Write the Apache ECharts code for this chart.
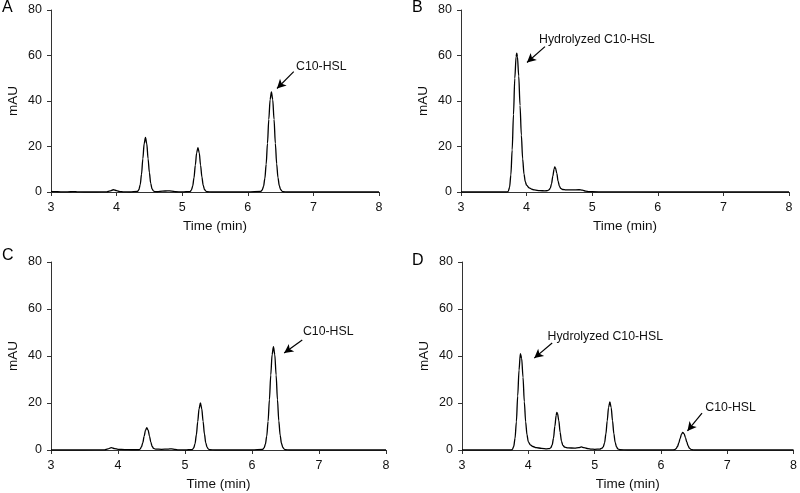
<!DOCTYPE html>
<html><head><meta charset="utf-8">
<script src="https://cdn.jsdelivr.net/npm/echarts@6/dist/echarts.min.js"></script>
<style>html,body{margin:0;padding:0;background:#fff}#c{width:800px;height:493px}</style>
</head><body><div id="c"></div><script>
// Chromatogram traces: [time (min), mAU]
const traceA = [[3.0,0.3],[3.05,0.2],[3.1,0.1],[3.2,0.05],[3.3,0.1],[3.35,0.2],[3.4,0.05],[3.5,0],[3.7,0],[3.85,0.05],[3.9,0.5],[3.95,1.0],[4.0,0.6],[4.05,0.2],[4.1,0.05],[4.2,0],
[4.32,0.26],[4.34,1.06],[4.36,3.24],[4.38,7.8],[4.40,14.6],[4.42,21.2],[4.44,24],[4.46,21.2],[4.48,14.6],[4.50,8.5],[4.52,3.8],[4.54,1.4],[4.56,0.5],[4.58,0.2],[4.62,0.1],[4.7,0.4],[4.78,0.5],[4.84,0.4],[4.9,0.1],[5.0,0],
[5.12,0.2],[5.14,0.86],[5.16,2.6],[5.18,6.3],[5.20,11.8],[5.22,17.2],[5.24,19.5],[5.26,17.2],[5.28,11.8],[5.30,6.6],[5.32,3.0],[5.34,1.1],[5.36,0.4],[5.38,0.1],[5.45,0],[6.0,0],
[6.20,0.26],[6.22,0.88],[6.24,2.46],[6.26,5.94],[6.28,12.2],[6.30,21.4],[6.32,31.9],[6.34,40.6],[6.36,44],[6.38,40.6],[6.40,31.9],[6.42,21.4],[6.44,12.4],[6.46,6.3],[6.48,2.8],[6.50,1.1],[6.52,0.4],[6.54,0.1],[6.6,0],[7.0,0],[8.0,0]];
const traceB = [[3.0,0],[3.5,0],[3.70,0],[3.72,0.3],[3.74,2.0],[3.76,7.5],[3.78,18.5],[3.80,34],[3.82,50],[3.84,59.5],[3.85,61],[3.86,59.5],[3.88,51],[3.90,38],[3.92,25],[3.94,14.5],[3.96,8],[3.98,4.5],[4.00,3.0],[4.04,1.8],[4.08,1.2],[4.12,0.9],[4.2,0.6],[4.28,0.5],[4.32,0.6],
[4.34,0.9],[4.36,1.6],[4.38,3.6],[4.40,7.0],[4.42,10.2],[4.43,11],[4.44,10.6],[4.46,8.3],[4.48,4.8],[4.50,2.6],[4.52,1.6],[4.55,1.1],[4.6,0.9],[4.7,0.9],[4.8,1.0],[4.85,0.8],[4.9,0.4],[4.95,0.2],[5.0,0.1],[5.2,0.05],[6.0,0],[8.0,0]];
const traceC = [[3.0,0],[3.5,0],[3.8,0.05],[3.85,0.5],[3.9,1.0],[3.95,0.6],[4.0,0.3],[4.1,0.2],[4.2,0.1],
[4.31,0.1],[4.33,0.4],[4.35,1.3],[4.37,3.1],[4.39,5.8],[4.41,8.4],[4.43,9.5],[4.45,8.4],[4.47,5.9],[4.49,3.3],[4.51,1.5],[4.53,0.7],[4.56,0.4],[4.65,0.3],[4.75,0.4],[4.8,0.5],[4.85,0.3],[4.9,0.05],[5.0,0],
[5.11,0.2],[5.13,0.9],[5.15,2.7],[5.17,6.5],[5.19,12.1],[5.21,17.6],[5.23,20],[5.25,17.6],[5.27,12.2],[5.29,6.8],[5.31,3.0],[5.33,1.1],[5.35,0.4],[5.37,0.1],[5.45,0],[6.0,0],
[6.16,0.26],[6.18,0.88],[6.20,2.46],[6.22,5.94],[6.24,12.2],[6.26,21.4],[6.28,31.9],[6.30,40.6],[6.32,44],[6.34,40.6],[6.36,31.9],[6.38,21.4],[6.40,12.4],[6.42,6.3],[6.44,2.8],[6.46,1.1],[6.48,0.4],[6.50,0.1],[6.56,0],[7.0,0],[8.0,0]];
const traceD = [[3.0,0],[3.5,0],[3.74,0],[3.76,0.3],[3.78,1.5],[3.80,5],[3.82,12],[3.84,23],[3.86,34],[3.88,41],[3.90,39],[3.92,31],[3.94,20.5],[3.96,12],[3.98,6.5],[4.00,3.5],[4.03,2.2],[4.07,1.5],[4.12,1.0],[4.2,0.7],[4.28,0.5],[4.32,0.6],
[4.34,1.0],[4.36,2.2],[4.38,5.0],[4.40,10],[4.42,14.7],[4.43,16],[4.44,15.6],[4.46,12.5],[4.48,7.5],[4.50,3.8],[4.52,2.0],[4.55,1.2],[4.6,0.9],[4.7,0.8],[4.76,1.0],[4.8,1.3],[4.84,1.0],[4.9,0.6],[4.95,0.4],[5.0,0.3],[5.08,0.4],[5.11,0.8],
[5.13,1.3],[5.15,3.0],[5.17,6.8],[5.19,12.4],[5.21,18],[5.23,20.5],[5.25,18],[5.27,12.5],[5.29,7.0],[5.31,3.2],[5.33,1.3],[5.35,0.5],[5.38,0.1],[5.5,0],[6.0,0],
[6.19,0.05],[6.21,0.2],[6.23,0.6],[6.25,1.5],[6.27,3.0],[6.29,4.9],[6.31,6.7],[6.33,7.5],[6.35,6.9],[6.37,5.3],[6.39,3.4],[6.41,1.8],[6.43,0.8],[6.45,0.3],[6.47,0.1],[6.5,0],[7.0,0],[8.0,0]];
const panelLetters = ['A','B','C','D'];
const xTicks = [3,4,5,6,7,8];
const yTicks = [0,20,40,60,80];
// Annotations (data coordinates): label anchor and arrow start -> end
const notesA = [{text:'C10-HSL', at:[6.735,55.1], from:[6.70,52.9], to:[6.445,45.5]}];
const notesB = [{text:'Hydrolyzed C10-HSL', at:[4.19,67], from:[4.28,63.9], to:[4.006,56.9]}];
const notesC = [{text:'C10-HSL', at:[6.76,50.2], from:[6.75,46.8], to:[6.48,41.3]}];
const notesD = [{text:'Hydrolyzed C10-HSL', at:[4.29,48.1], from:[4.36,45.5], to:[4.09,39.1]},
                {text:'C10-HSL', at:[6.67,17.9], from:[6.62,15.7], to:[6.40,8.1]}];

const traces = [traceA, traceB, traceC, traceD];
const notes = [notesA, notesB, notesC, notesD];
const FONT = "'Liberation Sans', Arial, sans-serif";
const grids = [
  {left:51, top:10, width:328, height:182},
  {left:461, top:10, width:328, height:182},
  {left:51, top:262, width:335, height:188},
  {left:462, top:262, width:334, height:188}
];
const letterPos = [[2,0],[412,0],[2,248],[412,253]];
const axisLineStyle = {color:'#333', width:1};
const xAxes = grids.map((g,i)=>({
  type:'value', gridIndex:i, min:xTicks[0], max:xTicks[xTicks.length-1], interval:1,
  axisLine:{show:true, onZero:false, lineStyle:axisLineStyle},
  axisTick:{show:true, inside:false, length:4, lineStyle:axisLineStyle},
  axisLabel:{color:'#111', fontSize:12.5, fontFamily:FONT, margin:9},
  splitLine:{show:false},
  name:'Time (min)', nameLocation:'middle', nameGap:27,
  nameTextStyle:{color:'#111', fontSize:13.5, fontFamily:FONT}
}));
const yAxes = grids.map((g,i)=>({
  type:'value', gridIndex:i, min:yTicks[0], max:yTicks[yTicks.length-1], interval:20,
  axisLine:{show:true, lineStyle:axisLineStyle},
  axisTick:{show:true, inside:false, length:4, lineStyle:axisLineStyle},
  axisLabel:{color:'#111', fontSize:12.5, fontFamily:FONT, margin:9},
  splitLine:{show:false},
  name:'mAU', nameLocation:'middle', nameGap:31, nameRotate:90,
  nameTextStyle:{color:'#111', fontSize:13.5, fontFamily:FONT}
}));
const series = traces.map((tr,i)=>({
  type:'line', xAxisIndex:i, yAxisIndex:i, data:tr, showSymbol:false, symbol:'none',
  smooth:0.3, smoothMonotone:'x',
  lineStyle:{color:'#000', width:1.3},
  silent:true,
  markLine:{
    silent:true, symbol:['none','arrow'], symbolSize:[7,9],
    lineStyle:{color:'#000', width:1.2, type:'solid'},
    label:{show:false},
    data: notes[i].map(n=>[{coord:n.from},{coord:n.to}])
  },
  markPoint:{
    silent:true,
    data: notes[i].map(n=>({coord:n.at, symbol:'circle', symbolSize:0,
      label:{show:true, formatter:n.text, position:'right', distance:0, color:'#111', fontSize:12.3, fontFamily:FONT}}))
  }
}));
const chart = echarts.init(document.getElementById('c'), null, {renderer:'canvas'});
chart.setOption({
  animation:false,
  backgroundColor:'#fff',
  grid: grids,
  xAxis: xAxes,
  yAxis: yAxes,
  series: series,
  graphic: panelLetters.map((L,i)=>({type:'text', left:letterPos[i][0], top:letterPos[i][1],
    style:{text:L, fontSize:16, fontFamily:FONT, fill:'#000'}}))
});
</script></body></html>
